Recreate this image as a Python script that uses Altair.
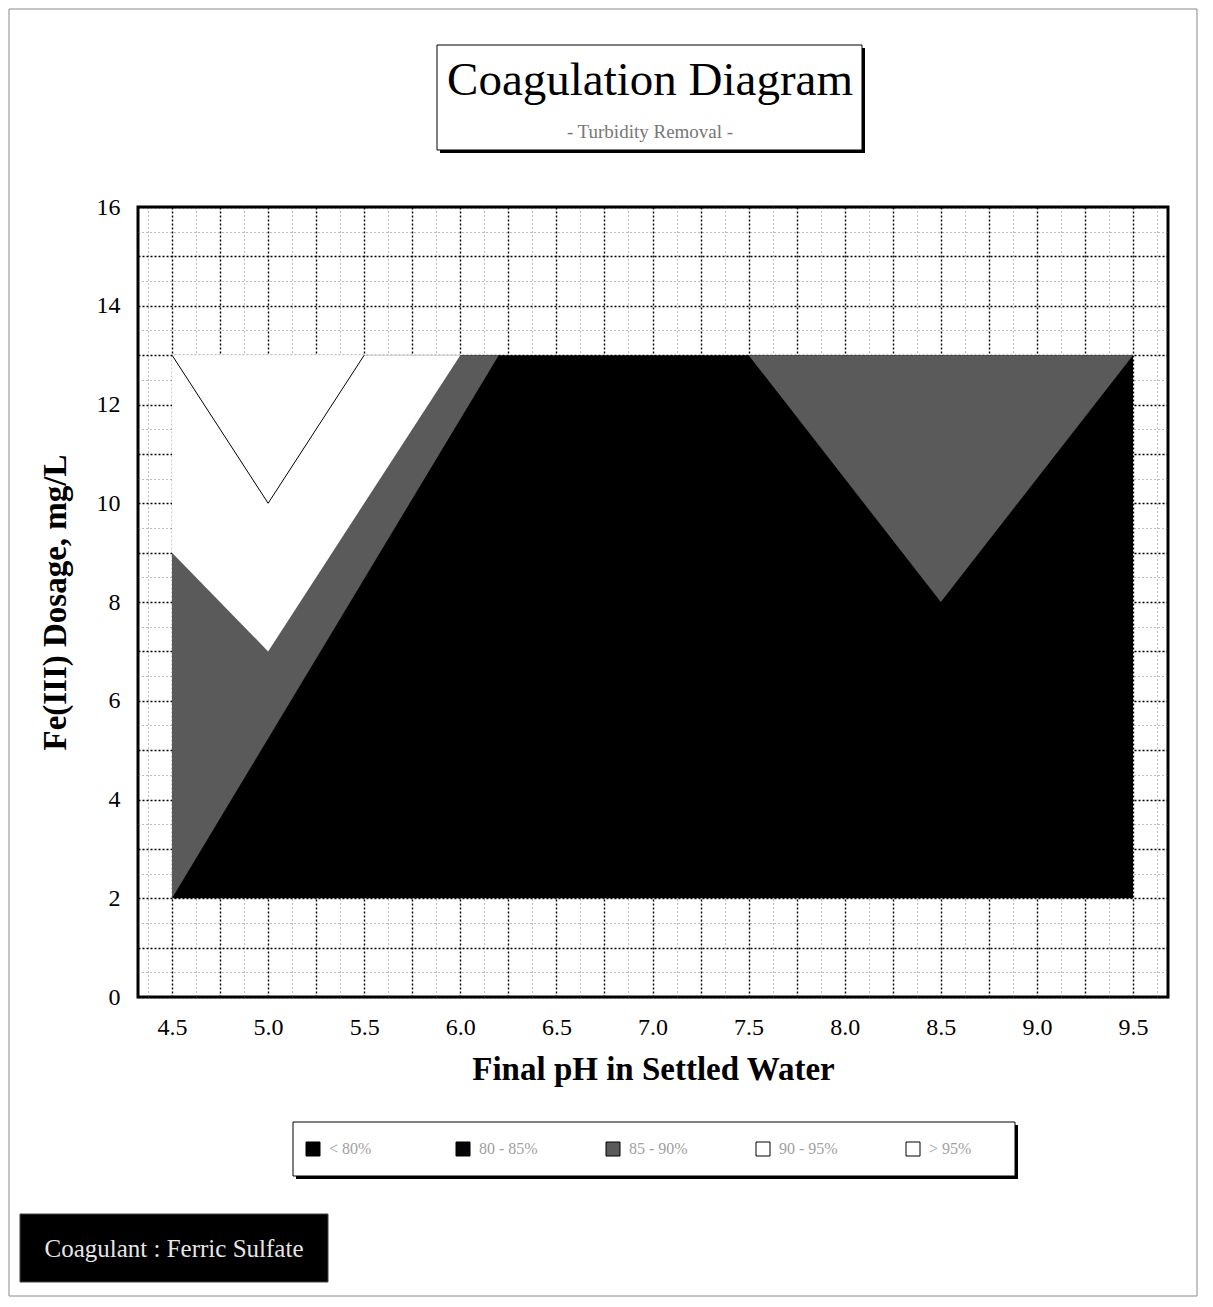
import altair as alt
import pandas as pd

# ---------------- data ----------------
bands = ["< 80%", "80 - 85%", "85 - 90%", "90 - 95%", "> 95%"]
band_colors = ["#000000", "#050505", "#5a5a5a", "#ffffff", "#ffffff"]

# black region (whole working window)
black_x = [4.5, 9.5]
black_lo = [2, 2]
black_hi = [13, 13]

# stippled region, low pH side
stipL_x = [4.5, 6.2]
stipL_lo = [2, 13]
stipL_hi = [13, 13]

# stippled region, high pH side
stipR_x = [7.5, 8.5, 9.5]
stipR_lo = [13, 8, 13]
stipR_hi = [13, 13, 13]

# white region 90-95 %
white_x = [4.5, 5.0, 6.0]
white_lo = [9, 7, 13]
white_hi = [13, 13, 13]

# inner white region > 95 %
inner_x = [4.5, 5.0, 5.5]
inner_lo = [13, 10, 13]
inner_hi = [13, 13, 13]

x_major = [4.5 + 0.25 * i for i in range(21)]
x_minor = [4.375 + 0.25 * i for i in range(22)]
y_major = list(range(0, 17))
y_minor = [0.5 + i for i in range(16)]

title_text = ["Coagulation Diagram"]
subtitle_text = ["- Turbidity Removal -"]
coag_text = ["Coagulant : Ferric Sulfate"]
x_title = "Final pH in Settled Water"
y_title = "Fe(III) Dosage, mg/L"

SERIF = "Liberation Serif"
XS = alt.Scale(domain=[4.323, 9.682], nice=False, zero=False)
YS = alt.Scale(domain=[0, 16], nice=False, zero=False)


def poly(xs, lo, hi, band):
    return pd.DataFrame({"x": xs, "y": lo, "y2": hi, "band": [band] * len(xs)})


color_enc = alt.Color(
    "band:N",
    scale=alt.Scale(domain=bands, range=band_colors),
    legend=alt.Legend(
        orient="none", legendX=167, legendY=934, direction="horizontal",
        columns=5, title=None, symbolType="square", symbolSize=196,
        symbolStrokeColor="black", symbolStrokeWidth=1, labelFont=SERIF,
        labelFontSize=16, labelColor="#a0a0a0", labelOffset=8,
        columnPadding=66, padding=0, gridAlign="all", symbolOpacity=1,
    ),
)

noax_x = alt.X("x:Q", scale=XS, axis=None)
noax_y = alt.Y("y:Q", scale=YS, axis=None)

# minor grid layer
df_black = poly(black_x, black_lo, black_hi, "< 80%")
minor = alt.Chart(df_black).mark_point(opacity=0).encode(
    x=alt.X("x:Q", scale=XS, axis=alt.Axis(
        orient="bottom", values=x_minor, grid=True, gridColor="#555555",
        gridDash=[1, 3], gridWidth=0.8, labels=False, ticks=False,
        domain=False, title=None, zindex=0)),
    y=alt.Y("y:Q", scale=YS, axis=alt.Axis(
        orient="left", values=y_minor, grid=True, gridColor="#555555",
        gridDash=[1, 3], gridWidth=0.8, labels=False, ticks=False,
        domain=False, title=None, zindex=0)),
)

# major grid + labels layer
major = alt.Chart(df_black).mark_point(opacity=0).encode(
    x=alt.X("x:Q", scale=XS, axis=alt.Axis(
        orient="bottom", values=x_major, grid=True, gridColor="black",
        gridDash=[2, 2], gridWidth=1.4, ticks=False, domain=False,
        labelExpr="(datum.value * 2) % 1 == 0 ? format(datum.value, '.1f') : ''",
        labelFont=SERIF, labelFontSize=24, labelColor="black",
        labelPadding=18, labelOverlap=False, labelFlush=False,
        title=x_title, titleFont=SERIF, titleFontSize=33,
        titleFontWeight="bold", titleColor="black", titlePadding=14,
        zindex=0)),
    y=alt.Y("y:Q", scale=YS, axis=alt.Axis(
        orient="left", values=y_major, grid=True, gridColor="black",
        gridDash=[2, 2], gridWidth=1.4, ticks=False, domain=False,
        labelExpr="datum.value % 2 == 0 ? format(datum.value, 'd') : ''",
        labelFont=SERIF, labelFontSize=24, labelColor="black",
        labelPadding=18, labelOverlap=False, labelFlush=False,
        title=y_title, titleFont=SERIF, titleFontSize=33,
        titleFontWeight="bold", titleColor="black", titlePadding=24,
        zindex=0)),
)


def area_layer(df):
    return alt.Chart(df).mark_area(interpolate="linear", opacity=1, strokeWidth=0).encode(
        x=noax_x, y=noax_y, y2="y2:Q", color=color_enc, order=alt.value(0)
    )


a_black = area_layer(df_black)
a_stipL = area_layer(poly(stipL_x, stipL_lo, stipL_hi, "85 - 90%"))
a_stipR = area_layer(poly(stipR_x, stipR_lo, stipR_hi, "85 - 90%"))
a_white = area_layer(poly(white_x, white_lo, white_hi, "90 - 95%"))
a_inner = area_layer(poly(inner_x, inner_lo, inner_hi, "> 95%"))
v_line = alt.Chart(poly(inner_x, inner_lo, inner_hi, "> 95%")).mark_line(
    color="black", strokeWidth=1).encode(x=noax_x, y=noax_y)

one = pd.DataFrame({"k": [0]})


def box(x, x2, y, y2, fill, stroke=None, sw=1):
    kw = dict(fill=fill)
    if stroke:
        kw.update(stroke=stroke, strokeWidth=sw)
    return alt.Chart(one).mark_rect(**kw).encode(
        x=alt.value(x), x2=alt.value(x2), y=alt.value(y), y2=alt.value(y2))


def label(texts, x, y, size, color, weight="normal"):
    return alt.Chart(pd.DataFrame({"t": texts})).mark_text(
        font=SERIF, fontSize=size, color=color, fontWeight=weight,
        align="center", baseline="alphabetic").encode(
        text="t:N", x=alt.value(x), y=alt.value(y))


frame = alt.Chart(one).mark_rect(fill="white", fillOpacity=0, stroke="#8a8a8a", strokeWidth=1).encode(
    x=alt.value(-129), x2=alt.value(1059), y=alt.value(-198), y2=alt.value(1089))

deco = [
    frame,
    box(302, 727, -159, -54, "black"),
    box(299, 724, -162, -57, "white", "black", 1),
    label(title_text, 512, -112, 47, "black"),
    label(subtitle_text, 512, -69, 19, "#777777"),
    box(158, 880, 918, 972, "black"),
    box(155, 877, 915, 969, "white", "black", 1),
    box(-118, 190, 1007, 1075, "black", "#444444", 1),
    label(coag_text, 36, 1050, 25, "#e6e6e6"),
]

chart = alt.layer(
    minor, major, a_black, a_stipL, a_stipR, a_white, a_inner, v_line, *deco
).resolve_axis(x="independent", y="independent").properties(
    width=1030, height=790,
    autosize=alt.AutoSizeParams(type="none"),
    padding={"left": 130, "top": 199, "right": 30, "bottom": 300},
    background="white",
).configure_view(stroke="black", strokeWidth=3)

chart.save("out.html", embed_options={"renderer": "svg", "actions": False})
